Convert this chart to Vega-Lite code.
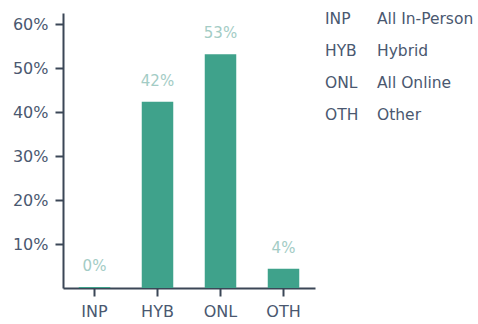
{
  "$schema": "https://vega.github.io/schema/vega-lite/v6.json",
  "padding": {"left": 12, "top": 12, "right": 0, "bottom": 0},
  "autosize": {"type": "pad"},
  "background": "white",
  "config": {
    "view": {"stroke": null},
    "font": "DejaVu Sans",
    "concat": {"spacing": 10}
  },
  "datasets": {
    "bars": [
      {"code": "INP", "share": 0.002},
      {"code": "HYB", "share": 0.424},
      {"code": "ONL", "share": 0.532},
      {"code": "OTH", "share": 0.044}
    ],
    "legend": [
      {"code": "INP", "col": "code", "label": "INP"},
      {"code": "INP", "col": "desc", "label": "All In-Person"},
      {"code": "HYB", "col": "code", "label": "HYB"},
      {"code": "HYB", "col": "desc", "label": "Hybrid"},
      {"code": "ONL", "col": "code", "label": "ONL"},
      {"code": "ONL", "col": "desc", "label": "All Online"},
      {"code": "OTH", "col": "code", "label": "OTH"},
      {"code": "OTH", "col": "desc", "label": "Other"}
    ]
  },
  "hconcat": [
    {
      "width": 252,
      "height": 275,
      "data": {"name": "bars"},
      "encoding": {
        "x": {
          "field": "code", "type": "nominal", "sort": null,
          "scale": {"paddingInner": 0.5, "paddingOuter": 0.25},
          "axis": {
            "title": null, "labelAngle": 0, "labelFontSize": 16, "labelColor": "#4a5870",
            "domainColor": "#3b4656", "domainWidth": 2, "tickColor": "#3b4656", "tickWidth": 2,
            "tickSize": 8, "labelPadding": 7
          }
        },
        "y": {
          "field": "share", "type": "quantitative",
          "scale": {"domain": [0, 0.626]},
          "axis": {
            "title": null, "values": [0.1, 0.2, 0.3, 0.4, 0.5, 0.6], "format": ".0%", "grid": false,
            "labelFontSize": 16, "labelColor": "#4a5870",
            "domainColor": "#3b4656", "domainWidth": 2, "tickColor": "#3b4656", "tickWidth": 2,
            "tickSize": 8, "labelPadding": 7
          }
        }
      },
      "layer": [
        {"mark": {"type": "bar", "color": "#3fa28b"}},
        {
          "mark": {"type": "text", "baseline": "bottom", "dy": -13, "fontSize": 15, "color": "#a3ccc5"},
          "encoding": {"text": {"field": "share", "format": ".0%"}}
        }
      ]
    },
    {
      "width": 52,
      "height": 108,
      "data": {"name": "legend"},
      "mark": {"type": "text", "align": "left", "baseline": "middle", "fontSize": 15.5, "color": "#4a5870"},
      "encoding": {
        "x": {"field": "col", "type": "nominal", "scale": {"type": "point", "padding": 0}, "axis": null},
        "y": {"field": "code", "type": "nominal", "sort": ["INP", "HYB", "ONL", "OTH"], "scale": {"type": "point", "padding": 0.1875}, "axis": null},
        "text": {"field": "label"}
      }
    }
  ]
}
